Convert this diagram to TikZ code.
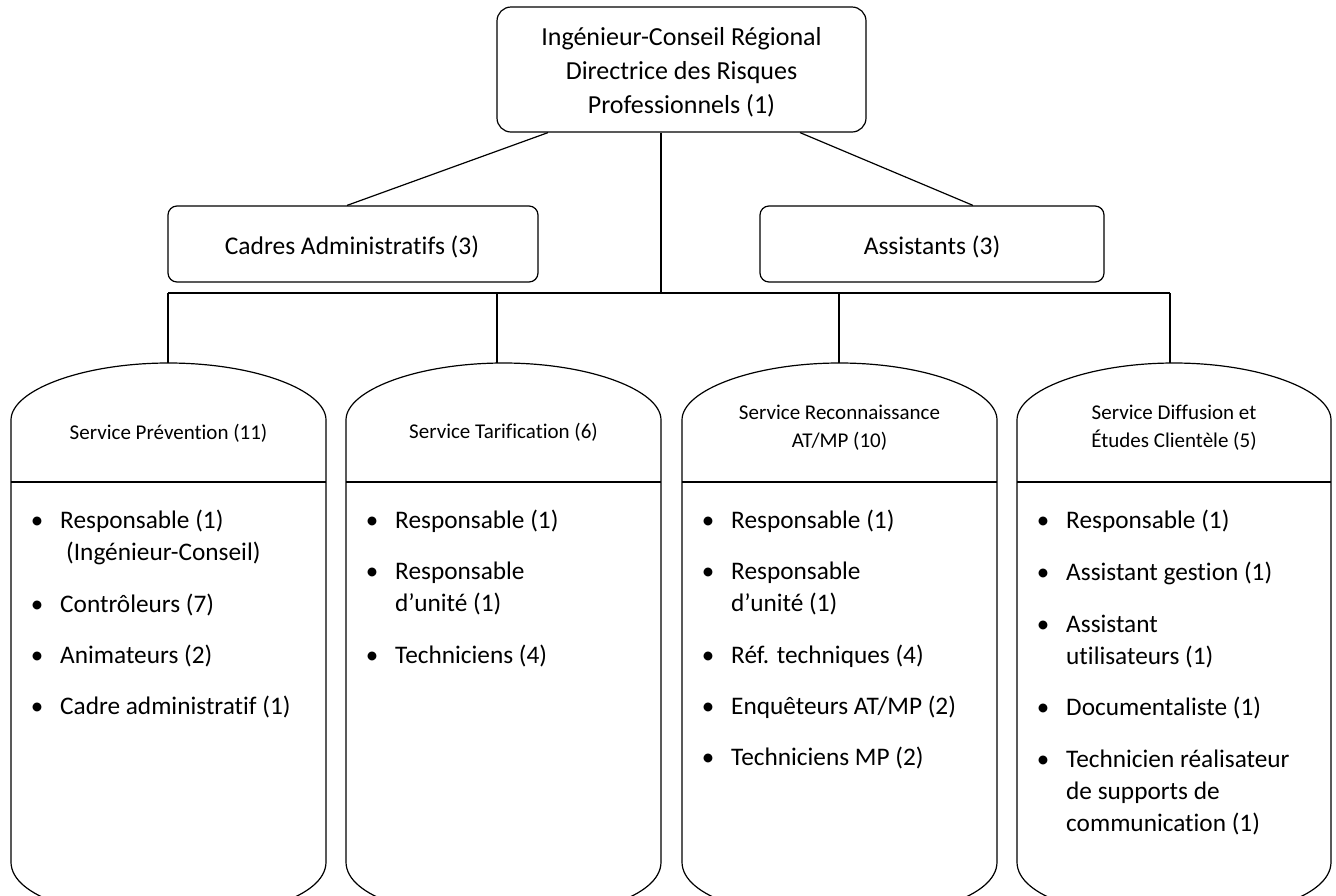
\documentclass[tikz,border=0pt]{standalone}
\usepackage{fontspec}
\setmainfont{Carlito}[Ligatures=NoCommon]
\tikzset{
  lnk/.style={line width=1.2pt},
  boxshape/.style={draw, line width=1.2pt, rounded corners=9pt, inner sep=0pt},
  bigtxt/.style={font=\fontsize{26}{33}\selectfont, anchor=base, inner sep=0pt},
  midtxt/.style={font=\fontsize{25.5}{32}\selectfont, anchor=base, inner sep=0pt},
  hdr/.style={font=\fontsize{21}{27}\selectfont, anchor=base, inner sep=0pt},
  itm/.style={font=\fontsize{25.3}{32}\selectfont, anchor=base west, inner sep=0pt},
  dot/.style={font=\fontsize{25}{32}\selectfont, anchor=base, inner sep=0pt},
}
\newcommand{\svccol}[2]{%
  \pgfmathsetmacro{\mx}{(#1+#2)/2}
  \draw[lnk] (#1,420) .. controls (#1,390) and ({#1+72},363) .. (\mx,363)
    .. controls ({#2-72},363) and (#2,390) .. (#2,420) -- (#2,862)
    .. controls (#2,897) and ({#2-74},919) .. (\mx,919)
    .. controls ({#1+74},919) and (#1,897) .. (#1,862) -- cycle;
  \draw[lnk] (#1,482) -- (#2,482);
}
\newcommand{\bitem}[4]{%
  \node[dot] (#1d) at ({#2-23},#3) {•};
  \node[itm] (#1) at (#2,#3) {#4};
}
\newcommand{\contline}[4]{%
  \node[itm] (#1) at (#2,#3) {#4};
}
\begin{document}
\begin{tikzpicture}[x=1pt,y=-1pt]
\useasboundingbox (0,0) rectangle (1336,895);
\fill[white] (0,0) rectangle (1336,895);
\clip (0,0) rectangle (1336,895);

% top box
\node[boxshape, rounded corners=14pt, minimum width=369pt, minimum height=125pt] (top) at (681.5,69.5) {};
\node[bigtxt] (t1) at (681.5,45) {Ingénieur-Conseil Régional};
\node[bigtxt] (t2) at (681.5,79) {Directrice des Risques};
\node[bigtxt] (t3) at (681.5,113) {Professionnels (1)};

% second level
\node[boxshape, minimum width=370pt, minimum height=76pt] (cad) at (353,244) {};
\node[midtxt] (cadt) at (352,254) {Cadres Administratifs (3)};
\node[boxshape, minimum width=344pt, minimum height=76pt] (ast) at (932,244) {};
\node[midtxt] (astt) at (932,254) {Assistants (3)};

% connectors
\coordinate (hub) at (661,293);
\coordinate (c1) at (168,363);
\coordinate (c2) at (497,363);
\coordinate (c3) at (839,363);
\coordinate (c4) at (1170,363);
\draw[lnk] ([xshift=-133.5pt]top.south) -- ([xshift=-6pt]cad.north);
\draw[lnk] ([xshift=118.5pt]top.south) -- ([xshift=41pt]ast.north);
\draw[lnk] (top.south -| hub) -- (hub);
\draw[lnk] (c1 |- hub) -- (c4 |- hub);
\foreach \c in {c1,c2,c3,c4} \draw[lnk] (\c |- hub) -- (\c);

% columns
\svccol{11}{326}
\svccol{346}{661}
\svccol{682}{997}
\svccol{1017}{1331}

% headers
\node[hdr] (h1) at (168.5,439) {Service Prévention (11)};
\node[hdr] (h2) at (503.5,438) {Service Tarification (6)};
\node[hdr] (h3a) at (839.5,419) {Service Reconnaissance};
\node[hdr] (h3b) at (839.5,447) {AT/MP (10)};
\node[hdr] (h4a) at (1174,419) {Service Diffusion et};
\node[hdr] (h4b) at (1174,447) {Études Clientèle (5)};

% column 1
\bitem{a1}{60}{528}{Responsable (1)}
\contline{a1b}{66}{560}{(Ingénieur-Conseil)}
\bitem{a2}{60}{612}{Contrôleurs (7)}
\bitem{a3}{60}{663}{Animateurs (2)}
\bitem{a4}{60}{714}{Cadre administratif (1)}

% column 2
\bitem{b1}{395}{528}{Responsable (1)}
\bitem{b2}{395}{579}{Responsable}
\contline{b2b}{395}{611}{d’unité (1)}
\bitem{b3}{395}{663}{Techniciens (4)}

% column 3
\bitem{e1}{731}{528}{Responsable (1)}
\bitem{e2}{731}{579}{Responsable}
\contline{e2b}{731}{611}{d’unité (1)}
\bitem{e3}{731}{663}{Réf. techniques (4)}
\bitem{e4}{731}{714}{Enquêteurs AT/MP (2)}
\bitem{e5}{731}{765}{Techniciens MP (2)}

% column 4
\bitem{f1}{1066}{528}{Responsable (1)}
\bitem{f2}{1066}{580}{Assistant gestion (1)}
\bitem{f3}{1066}{632}{Assistant}
\contline{f3b}{1066}{664}{utilisateurs (1)}
\bitem{f4}{1066}{715}{Documentaliste (1)}
\bitem{f5}{1066}{767}{Technicien réalisateur}
\contline{f5b}{1066}{799}{de supports de}
\contline{f5c}{1066}{831}{communication (1)}
\end{tikzpicture}
\end{document}
